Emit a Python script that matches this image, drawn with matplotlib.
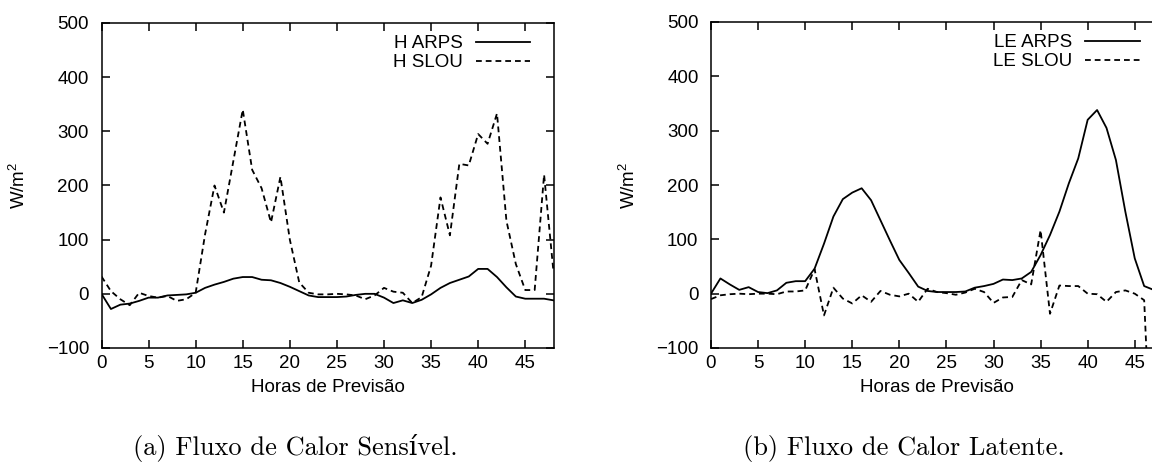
import matplotlib
matplotlib.use("Agg")
import matplotlib.pyplot as plt

hours = list(range(49))

h_arps = [0, -28, -20, -18, -13, -7, -7, -3, -2, -1,
          2, 11, 17, 22, 28, 31, 31, 26, 25, 20,
          13, 5, -3, -6, -6, -6, -5, -2, 0, 0,
          -7, -17, -12, -17, -11, -1, 11, 20, 26, 32,
          46, 46, 31, 12, -5, -9, -9, -9, -12]
h_slou = [32, 5, -10, -21, 2, -4, -7, -4, -13, -10,
          2, 110, 200, 150, 245, 340, 229, 195, 132, 216,
          100, 21, 2, -1, -1, 0, -1, -3, -10, -3,
          11, 4, 2, -17, -6, 52, 178, 108, 240, 237,
          295, 277, 333, 135, 55, 7, 7, 220, 40]
le_arps = [0, 28, 17, 7, 12, 3, 1, 6, 20, 23,
           23, 46, 92, 142, 174, 186, 194, 172, 135, 98,
           62, 38, 13, 5, 3, 3, 3, 4, 11, 14,
           18, 26, 25, 28, 40, 71, 108, 151, 203, 249,
           320, 338, 305, 246, 151, 65, 14, 7, 3]
le_slou = [-10, -3, -1, 0, -1, 0, 0, -1, 4, 4,
           6, 45, -40, 11, -9, -18, -3, -15, 5, -2,
           -5, 0, -15, 9, 3, 1, -2, 2, 9, 3,
           -17, -7, -6, 25, 17, 117, -37, 15, 14, 14,
           0, -1, -15, 3, 6, 0, -12, -400, -400]

xticks = [0, 5, 10, 15, 20, 25, 30, 35, 40, 45]
yticks = [-100, 0, 100, 200, 300, 400, 500]
xlabel = "Horas de Previsão"
ylabel = "W/m$^2$"
captions = ["(a) Fluxo de Calor Sensível.", "(b) Fluxo de Calor Latente."]
labels = [("H ARPS", "H SLOU"), ("LE ARPS", "LE SLOU")]

plt.rcParams['font.family'] = ['Liberation Sans', 'DejaVu Sans']
plt.rcParams['mathtext.fontset'] = 'custom'
plt.rcParams['mathtext.rm'] = 'Liberation Sans'
plt.rcParams['mathtext.it'] = 'Liberation Sans'

W, H = 1152, 475
fig = plt.figure(figsize=(W / 100, H / 100), dpi=100)

axes_px = [(101.5, 23, 452, 325), (711, 22, 452, 326)]
series = [(h_arps, h_slou), (le_arps, le_slou)]
cap_x = [133, 743]

fs = 13.5
for i, ((lx, ty, w, h), (s1, s2)) in enumerate(zip(axes_px, series)):
    ax = fig.add_axes([lx / W, (H - ty - h) / H, w / W, h / H])
    ax.plot(hours, s1, color='black', lw=1.3, label=labels[i][0])
    ax.plot(hours, s2, color='black', lw=1.3, ls=(0, (3.2, 2.2)),
            label=labels[i][1])
    ax.set_xlim(0, 48)
    ax.set_ylim(-100, 500)
    ax.set_xticks(xticks)
    ax.set_yticks(yticks)
    ax.tick_params(direction='in', length=6, width=1.1, top=True, right=True,
                   labelsize=fs)
    ax.tick_params(axis='x', pad=5)
    ax.tick_params(axis='y', pad=9)
    for sp in ax.spines.values():
        sp.set_linewidth(1.1)
    ax.set_xlabel(xlabel, fontsize=fs, labelpad=5)
    ax.set_ylabel(ylabel, fontsize=fs)
    ax.yaxis.set_label_coords(-0.16, 0.5)
    ax.legend(loc='upper right', bbox_to_anchor=(0.975, 1.0), frameon=False,
              markerfirst=False, fontsize=fs, handlelength=2.9,
              handletextpad=0.7, labelspacing=0.1, borderaxespad=0.25)
    fig.text(cap_x[i] / W, (H - 448) / H, captions[i], ha='left', va='center',
             fontsize=19, family=['cmr10', 'DejaVu Serif'])

fig.savefig("out.png", dpi=100)
